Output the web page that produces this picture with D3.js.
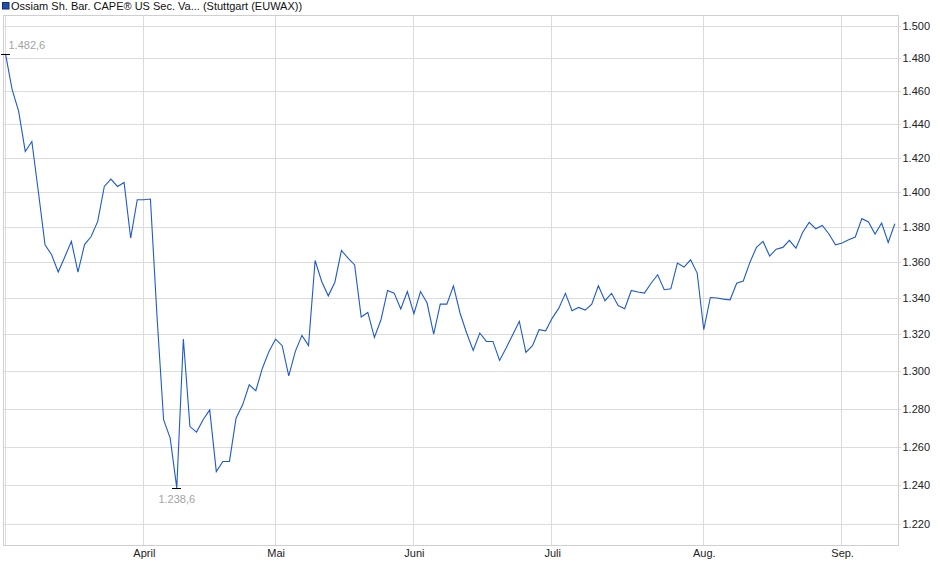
<!DOCTYPE html>
<html>
<head>
<meta charset="utf-8">
<script src="https://cdn.jsdelivr.net/npm/d3@7"></script>
<style>
  body { margin: 0; background: #fff; }
  svg { font-family: "Liberation Sans", Arial, sans-serif; }
  .grid line { stroke: #dcdcdc; stroke-width: 1; shape-rendering: crispEdges; }
  .frame { fill: none; stroke: #cfcfcf; stroke-width: 1; shape-rendering: crispEdges; }
  .axis text { font-size: 11px; fill: #222; }
  .axis path, .axis line { display: none; }
  .price-line { fill: none; stroke: #1f5bc8; stroke-width: 1.1; }
  .extreme-mark { stroke: #000; stroke-width: 1; shape-rendering: crispEdges; }
  .extreme-label { font-size: 11px; fill: #a3a3a3; }
  .chart-title { font-size: 11px; fill: #111; }
</style>
</head>
<body>
<svg id="chart"></svg>
<script>
// daily closing prices, one per trading day (early March to mid September)
const prices = [
  1482.6, 1461.0, 1447.7, 1423.9, 1429.8, 1400.0, 1369.9, 1364.2, 1354.5, 1363.0,
  1371.8, 1354.5, 1370.0, 1374.6, 1383.2, 1403.4, 1407.7, 1403.4, 1405.7, 1373.7,
  1395.7, 1395.7, 1396.1, 1329.8, 1274.1, 1264.4, 1238.6, 1317.4, 1270.5, 1267.6,
  1274.1, 1279.3, 1247.0, 1252.2, 1252.3, 1274.9, 1282.0, 1292.7, 1289.5, 1301.6,
  1310.7, 1317.4, 1313.8, 1297.5, 1310.7, 1319.4, 1313.8, 1361.0, 1349.2, 1341.2,
  1348.8, 1366.7, 1362.3, 1358.5, 1329.5, 1332.0, 1318.3, 1328.0, 1344.2, 1342.7,
  1333.9, 1343.6, 1331.3, 1343.6, 1337.2, 1320.1, 1336.6, 1336.6, 1346.8, 1331.7,
  1320.7, 1311.2, 1320.7, 1316.1, 1316.1, 1305.8, 1312.5, 1319.7, 1327.1, 1310.1,
  1313.8, 1322.5, 1321.9, 1328.9, 1334.4, 1342.6, 1333.0, 1334.8, 1333.3, 1336.6,
  1346.8, 1338.5, 1342.6, 1335.8, 1334.1, 1344.2, 1343.3, 1342.7, 1348.2, 1353.0,
  1344.6, 1345.1, 1359.5, 1357.3, 1361.4, 1353.9, 1322.5, 1340.3, 1340.0, 1339.4,
  1339.0, 1348.2, 1349.5, 1359.9, 1368.4, 1371.8, 1363.5, 1367.4, 1368.4, 1372.4,
  1368.0, 1376.9, 1382.6, 1379.0, 1380.9, 1376.0, 1369.9, 1370.9, 1372.7, 1374.3,
  1384.8, 1382.9, 1376.0, 1382.3, 1371.2, 1381.9
]

// index of the first trading day of each month
const monthStarts = [0, 21, 41, 62, 83, 106, 127]
const monthLabels = ['', 'April', 'Mai', 'Juni', 'Juli', 'Aug.', 'Sep.']

const yTicks = d3.range(1220, 1501, 20)
const yDomain = [1209.4, 1506.4]

const titleText = 'Ossiam Sh. Bar. CAPE® US Sec. Va... (Stuttgart (EUWAX))'

const de = d3.formatLocale({decimal: ',', thousands: '.', grouping: [3], currency: ['', ' €']})
const fmtTick = de.format(',.0f')
const fmtPrice = de.format(',.1f')

const width = 940, height = 579
const plot = {left: 3, right: 898.5, top: 15.5, bottom: 545.5}

const svg = d3.select('#chart')
    .attr('width', width)
    .attr('height', height)

const xScale = d3.scaleLinear()
    .domain([0, prices.length - 1])
    .range([5.5, 894.8])

const yScale = d3.scaleLog()
    .domain(yDomain)
    .range([plot.bottom, plot.top])

// legend + title
svg.append('rect')
    .attr('x', 2.5).attr('y', 2.5)
    .attr('width', 6.5).attr('height', 6.5)
    .attr('fill', '#1f4fb0')
    .attr('stroke', '#12306e')
    .attr('stroke-width', 1)

svg.append('text')
    .attr('class', 'chart-title')
    .attr('x', 11)
    .attr('y', 10)
    .text(titleText)

// grid
const grid = svg.append('g').attr('class', 'grid')

grid.selectAll('.hgrid')
    .data(yTicks)
    .join('line')
    .attr('class', 'hgrid')
    .attr('x1', plot.left)
    .attr('x2', plot.right + 2)
    .attr('y1', d => Math.round(yScale(d)) + 0.5)
    .attr('y2', d => Math.round(yScale(d)) + 0.5)

grid.selectAll('.vgrid')
    .data(monthStarts)
    .join('line')
    .attr('class', 'vgrid')
    .attr('x1', d => Math.round(xScale(d)) - 0.5)
    .attr('x2', d => Math.round(xScale(d)) - 0.5)
    .attr('y1', plot.top)
    .attr('y2', plot.bottom)

svg.append('rect')
    .attr('class', 'frame')
    .attr('x', plot.left)
    .attr('y', plot.top)
    .attr('width', plot.right - plot.left)
    .attr('height', plot.bottom - plot.top)

// axes (labels only, grid drawn above)
const yAxis = d3.axisRight(yScale)
    .tickValues(yTicks)
    .tickFormat(fmtTick)
    .tickSize(0)
    .tickPadding(4)

svg.append('g')
    .attr('class', 'axis y-axis')
    .attr('transform', `translate(${plot.right},0)`)
    .call(yAxis)

const xAxis = d3.axisBottom(xScale)
    .tickValues(monthStarts)
    .tickFormat((d, i) => monthLabels[i])
    .tickSize(0)
    .tickPadding(4)

svg.append('g')
    .attr('class', 'axis x-axis')
    .attr('transform', `translate(0,${plot.bottom})`)
    .call(xAxis)

// price line
const line = d3.line()
    .x((d, i) => xScale(i))
    .y(d => yScale(d))

svg.append('path')
    .datum(prices)
    .attr('class', 'price-line')
    .attr('d', line)

// high / low markers
const iMax = d3.maxIndex(prices)
const iMin = d3.minIndex(prices)

const marks = [
    {i: iMax, v: prices[iMax], dy: -9, anchor: 'start', dx: 3},
    {i: iMin, v: prices[iMin], dy: 11, anchor: 'middle', dx: 0}
]

svg.selectAll('.extreme-mark')
    .data(marks)
    .join('line')
    .attr('class', 'extreme-mark')
    .attr('x1', d => xScale(d.i) - 4.5)
    .attr('x2', d => xScale(d.i) + 4.5)
    .attr('y1', d => Math.round(yScale(d.v)) + 0.5)
    .attr('y2', d => Math.round(yScale(d.v)) + 0.5)

svg.selectAll('.extreme-label')
    .data(marks)
    .join('text')
    .attr('class', 'extreme-label')
    .attr('x', d => xScale(d.i) + d.dx)
    .attr('y', d => yScale(d.v) + d.dy)
    .attr('dy', '.35em')
    .style('text-anchor', d => d.anchor)
    .text(d => fmtPrice(d.v))
</script>
</body>
</html>
